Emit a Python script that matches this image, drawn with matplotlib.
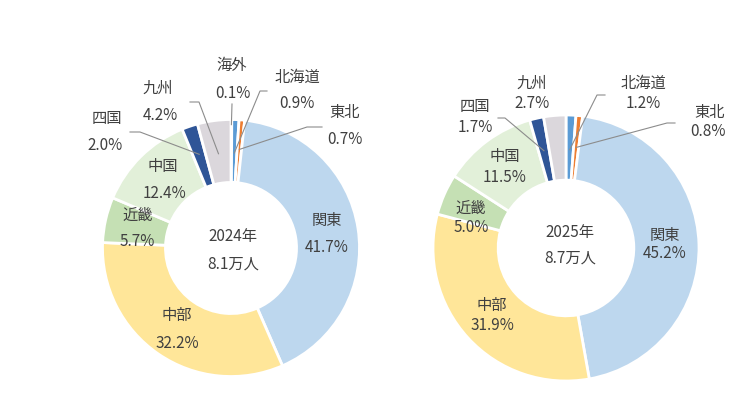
import numpy as np
import matplotlib.pyplot as plt

plt.rcParams['font.family'] = ['Noto Sans CJK JP', 'DejaVu Sans']

# data
regions_2024 = ["海外", "北海道", "東北", "関東", "中部", "近畿", "中国", "四国", "九州"]
shares_2024 = [0.1, 0.9, 0.7, 41.7, 32.2, 5.7, 12.4, 2.0, 4.2]
regions_2025 = ["北海道", "東北", "関東", "中部", "近畿", "中国", "四国", "九州"]
shares_2025 = [1.2, 0.8, 45.2, 31.9, 5.0, 11.5, 1.7, 2.7]
years = ["2024年", "2025年"]
totals = ["8.1万人", "8.7万人"]

colors = {
    "海外": "#A5A5A5", "北海道": "#5B9BD5", "東北": "#ED7D31", "関東": "#BDD7EE",
    "中部": "#FFE699", "近畿": "#C5E0B4", "中国": "#E2F0D9", "四国": "#2F5597",
    "九州": "#DBD7DC",
}
TXT = "#404040"
H = 420  # image height, convert y-down pixel positions

# label positions (image px): name, value
pos_2024 = {
    "海外": ((232, 65), (233, 93)), "北海道": ((297, 77), (297, 103)),
    "東北": ((345, 113), (345, 139)), "関東": ((327, 220), (327, 247)),
    "中部": ((177, 315), (177, 343)), "近畿": ((138, 215), (137, 242)),
    "中国": ((163, 167), (164, 194)), "四国": ((107, 118), (105, 145)),
    "九州": ((158, 88), (160, 115)),
}
pos_2025 = {
    "北海道": ((643, 83), (643, 103)), "東北": ((710, 112), (708, 132)),
    "関東": ((665, 235), (665, 254)), "中部": ((492, 305), (492, 325)),
    "近畿": ((471, 208), (471, 228)), "中国": ((505, 157), (505, 177)),
    "四国": ((475, 107), (475, 127)), "九州": ((532, 83), (532, 103)),
}
# leader lines: region -> (elbow points in image px, end radius fraction)
lead_2024 = {
    "海外": ([(232, 104)], 0.96), "北海道": ([(267, 91), (260, 91)], 0.74),
    "東北": ([(322, 127), (307, 127)], 0.77), "九州": ([(190, 102), (199, 102)], 0.74),
    "四国": ([(130, 132), (140, 132)], 0.77),
}
lead_2025 = {
    "北海道": ([(605, 95), (597, 95)], 0.74), "東北": ([(675, 123), (667, 123)], 0.76),
    "四国": ([(498, 118), (505, 118)], 0.75),
}

fig = plt.figure(figsize=(7.4, 4.2), dpi=100)
ax = fig.add_axes([0, 0, 1, 1])


def donut(regions, shares, cx, cy, R, pos, lead, year, total, ctr, gap):
    ax.pie(shares, colors=[colors[r] for r in regions], center=(cx, H - cy),
           radius=R, startangle=90, counterclock=False,
           wedgeprops=dict(width=R * 0.49, edgecolor="white", linewidth=2))
    tot = sum(shares)
    cum = np.cumsum([0] + shares) / tot
    for i, r in enumerate(regions):
        (nx, ny), (vx, vy) = pos[r]
        ax.text(nx, H - ny, r, ha="center", va="center", fontsize=11, color=TXT)
        ax.text(vx, H - vy, f"{shares[i]:.1f}%", ha="center", va="center",
                fontsize=11, color=TXT)
        if r in lead:
            pts, fr = lead[r]
            ang = np.pi / 2 - 2 * np.pi * (cum[i] + cum[i + 1]) / 2
            ex, ey = cx + fr * R * np.cos(ang), (H - cy) + fr * R * np.sin(ang)
            xs = [p[0] for p in pts] + [ex]
            ys = [H - p[1] for p in pts] + [ey]
            ax.plot(xs, ys, color="#8C8C8C", lw=0.8)
    ax.text(ctr[0], H - ctr[1], year, ha="center", va="center", fontsize=11, color=TXT)
    ax.text(ctr[0], H - ctr[1] - gap, total, ha="center", va="center",
            fontsize=11, color=TXT)


donut(regions_2024, shares_2024, 231, 248, 128.5, pos_2024, lead_2024,
      years[0], totals[0], (233, 237), 27)
donut(regions_2025, shares_2025, 566, 248, 133, pos_2025, lead_2025,
      years[1], totals[1], (570, 232), 26)

ax.set_xlim(0, 740)
ax.set_ylim(0, H)
ax.set_aspect("auto")
ax.axis("off")

fig.savefig("out.png", dpi=100, facecolor="white")
